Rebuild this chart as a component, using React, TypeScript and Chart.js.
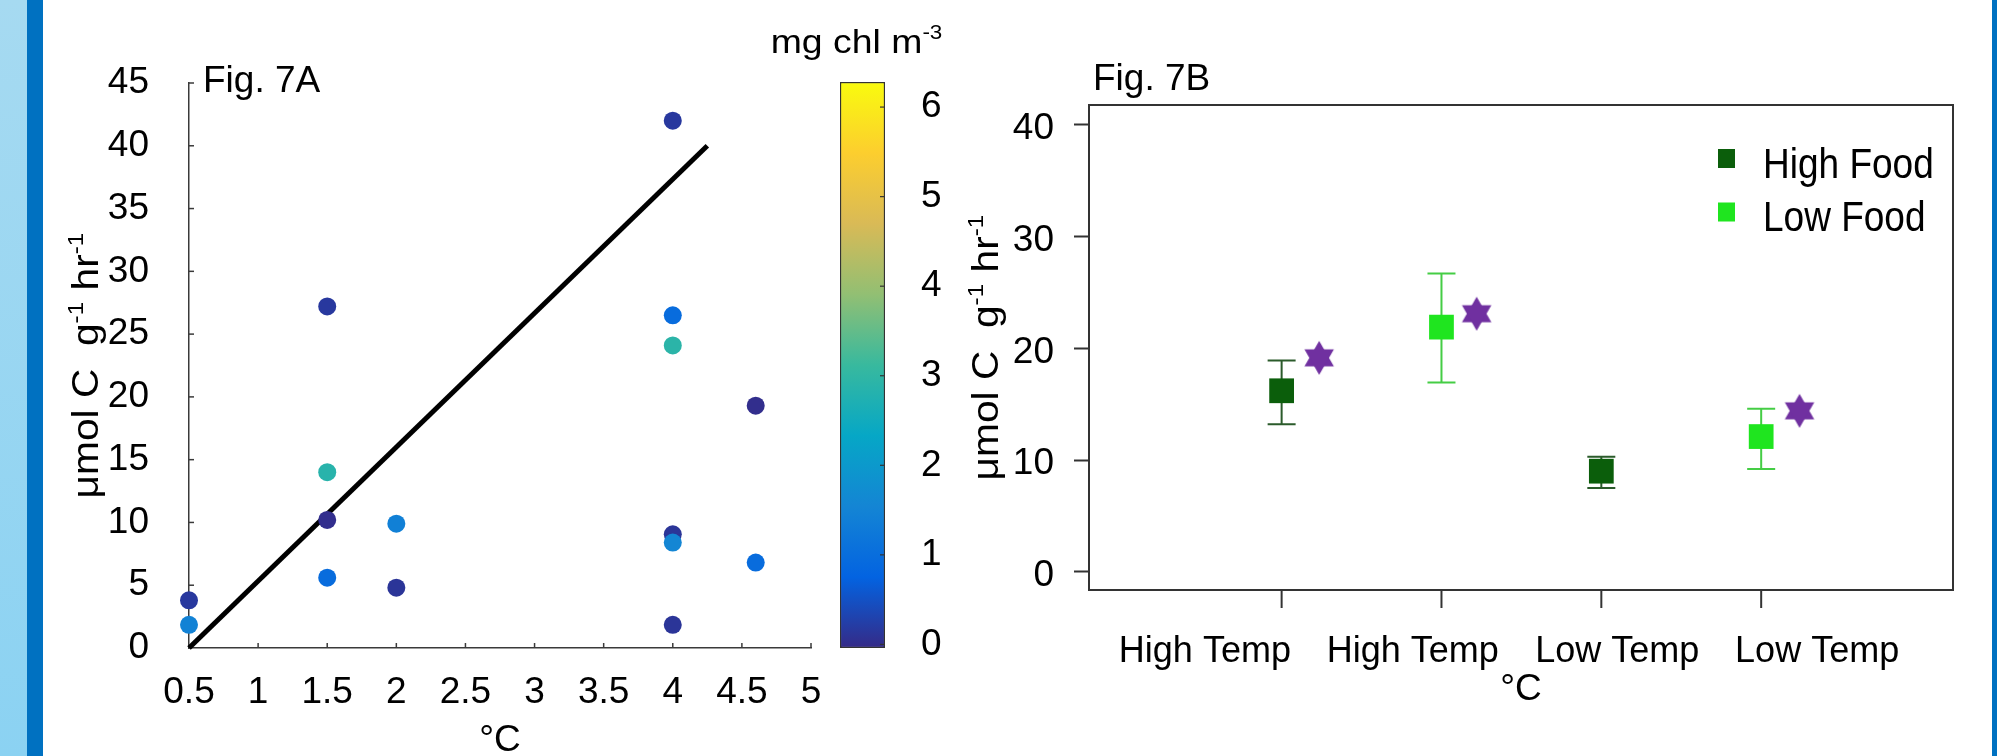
import React, { useEffect, useRef } from 'react';
import { Chart, registerables } from 'chart.js';

Chart.register(...registerables);

const FAMILY = '"Liberation Sans", Arial, Helvetica, sans-serif';
Chart.defaults.font.family = FAMILY;
Chart.defaults.color = '#000';

// ---------------- Fig. 7A data ----------------
const A_TEMP = [0.5, 0.5, 1.5, 1.5, 1.5, 1.5, 2, 2, 4, 4, 4, 4, 4, 4, 4.6, 4.6];
const A_RATE = [3.8, 1.85, 27.2, 14.0, 10.2, 5.6, 9.9, 4.8, 42.0, 26.5, 24.1, 9.05, 8.4, 1.85, 19.3, 6.8];
const A_CHL = [0.2, 1.5, 0.2, 2.9, 0.05, 1.0, 1.45, 0.15, 0.2, 1.0, 2.95, 0.15, 1.6, 0.15, 0.05, 1.0];
const A_FIT_X = [0.5, 4.25];
const A_FIT_Y = [0, 40];
const A_X_TICKS = [0.5, 1, 1.5, 2, 2.5, 3, 3.5, 4, 4.5, 5];
const A_Y_TICKS = [0, 5, 10, 15, 20, 25, 30, 35, 40, 45];
const CB_TICKS = [0, 1, 2, 3, 4, 5, 6];
const CB_MIN = -0.04;
const CB_MAX = 6.28;
const CHL_SCALE_MAX = 6.3;
const PARULA = ['#352A87', '#0363E1', '#1485D4', '#06A7C6', '#38B99E', '#92BF73', '#D9BA56', '#FCCE2E', '#F9FB0E'];

// ---------------- Fig. 7B data ----------------
const B_LABELS = ['High Temp', 'High Temp', 'Low Temp', 'Low Temp'];
const B_LABEL_AT = [0.52, 1.82, 3.1, 4.35];
const B_GROUP_X = [1, 2, 3, 4];
const B_Y_TICKS = [0, 10, 20, 30, 40];
const HIGH_FOOD_X = [1, 3];
const HIGH_FOOD_MEAN = [16.2, 9.0];
const HIGH_FOOD_LOW = [13.2, 7.5];
const HIGH_FOOD_HIGH = [18.9, 10.3];
const LOW_FOOD_X = [2, 4];
const LOW_FOOD_MEAN = [21.9, 12.1];
const LOW_FOOD_LOW = [16.95, 9.2];
const LOW_FOOD_HIGH = [26.7, 14.6];
const STAR_X = [1.235, 2.22, 4.24];
const STAR_Y = [19.15, 23.1, 14.4];

type Seg = { t: string; sup?: boolean };
const Y_TITLE: Seg[] = [{ t: 'μmol C  g' }, { t: '-1', sup: true }, { t: ' hr' }, { t: '-1', sup: true }];
const CB_TITLE: Seg[] = [{ t: 'mg chl m' }, { t: '-3', sup: true }];

function hexToRgb(h: string) {
  const n = parseInt(h.slice(1), 16);
  return [(n >> 16) & 255, (n >> 8) & 255, n & 255];
}
function parula(t: number) {
  const tt = Math.max(0, Math.min(1, t));
  const p = tt * (PARULA.length - 1);
  const i = Math.min(Math.floor(p), PARULA.length - 2);
  const f = p - i;
  const a = hexToRgb(PARULA[i]);
  const b = hexToRgb(PARULA[i + 1]);
  const c = a.map((v, k) => Math.round(v + (b[k] - v) * f));
  return `rgb(${c[0]},${c[1]},${c[2]})`;
}

function drawRich(
  ctx: CanvasRenderingContext2D,
  segs: Seg[],
  x: number,
  y: number,
  size: number,
  align: 'left' | 'center',
  rotate = 0,
  sx = 1,
  sy = 1
) {
  ctx.save();
  ctx.translate(x, y);
  if (rotate) ctx.rotate(rotate);
  ctx.scale(sx, sy);
  ctx.textBaseline = 'alphabetic';
  ctx.textAlign = 'left';
  ctx.fillStyle = '#000';
  const supSize = size * 0.6;
  let total = 0;
  const widths: number[] = [];
  segs.forEach((s) => {
    ctx.font = `${s.sup ? supSize : size}px ${FAMILY}`;
    const w = ctx.measureText(s.t).width;
    widths.push(w);
    total += w;
  });
  let cx = align === 'center' ? -total / 2 : 0;
  segs.forEach((s, i) => {
    ctx.font = `${s.sup ? supSize : size}px ${FAMILY}`;
    ctx.fillText(s.t, cx, s.sup ? -size * 0.4 : 0);
    cx += widths[i];
  });
  ctx.restore();
}

function makeStar(r: number, color: string) {
  const c = document.createElement('canvas');
  const s = Math.ceil(r * 2 + 2);
  c.width = s;
  c.height = s;
  const g = c.getContext('2d')!;
  g.fillStyle = color;
  const cx = s / 2;
  const cy = s / 2;
  [-90, 90].forEach((start) => {
    g.beginPath();
    for (let k = 0; k < 3; k++) {
      const ang = ((start + k * 120) * Math.PI) / 180;
      const px = cx + r * Math.cos(ang);
      const py = cy + r * Math.sin(ang);
      if (k === 0) g.moveTo(px, py);
      else g.lineTo(px, py);
    }
    g.closePath();
    g.fill();
  });
  return c;
}

const leftDecor = {
  id: 'leftDecor',
  afterDraw(chart: any) {
    const { ctx, chartArea: a, scales } = chart;
    const x = scales.x;
    const y = scales.y;
    ctx.save();
    ctx.strokeStyle = '#3a3a3a';
    ctx.lineWidth = 1.5;
    A_Y_TICKS.forEach((v) => {
      if (v === A_Y_TICKS[0]) return;
      const py = y.getPixelForValue(v);
      ctx.beginPath();
      ctx.moveTo(a.left, py);
      ctx.lineTo(a.left + 5, py);
      ctx.stroke();
    });
    A_X_TICKS.forEach((v) => {
      if (v === A_X_TICKS[0]) return;
      const px = x.getPixelForValue(v);
      ctx.beginPath();
      ctx.moveTo(px, a.bottom);
      ctx.lineTo(px, a.bottom - 5);
      ctx.stroke();
    });
    ctx.fillStyle = '#000';
    ctx.font = `37px ${FAMILY}`;
    ctx.textAlign = 'left';
    ctx.textBaseline = 'alphabetic';
    ctx.fillText('Fig. 7A', a.left + 14, a.top + 9);
    drawRich(ctx, Y_TITLE, a.left - 91, (a.top + a.bottom) / 2, 37, 'center', -Math.PI / 2, 1.1, 1);
    ctx.restore();
  },
};

const cbDecor = {
  id: 'cbDecor',
  afterDraw(chart: any) {
    const { ctx, chartArea: a, scales } = chart;
    const y = scales.y;
    ctx.save();
    ctx.strokeStyle = '#333';
    ctx.lineWidth = 1.2;
    CB_TICKS.forEach((v) => {
      const py = y.getPixelForValue(v);
      ctx.beginPath();
      ctx.moveTo(a.right - 1, py);
      ctx.lineTo(a.right - 5, py);
      ctx.stroke();
    });
    drawRich(ctx, CB_TITLE, (a.left + a.right) / 2 - 6, a.top - 29, 34, 'center', 0, 1.1, 1);
    ctx.restore();
  },
};

const rightDecor = {
  id: 'rightDecor',
  beforeDatasetsDraw(chart: any) {
    const { ctx, scales } = chart;
    const x = scales.x;
    const y = scales.y;
    ctx.save();
    chart.data.datasets.forEach((ds: any) => {
      if (!ds.errLow) return;
      ctx.strokeStyle = ds.errColor;
      ctx.lineWidth = 2;
      ds.data.forEach((p: any, i: number) => {
        const px = x.getPixelForValue(p.x);
        const yl = y.getPixelForValue(ds.errLow[i]);
        const yh = y.getPixelForValue(ds.errHigh[i]);
        ctx.beginPath();
        ctx.moveTo(px, yl);
        ctx.lineTo(px, yh);
        ctx.moveTo(px - 14, yl);
        ctx.lineTo(px + 14, yl);
        ctx.moveTo(px - 14, yh);
        ctx.lineTo(px + 14, yh);
        ctx.stroke();
      });
    });
    ctx.restore();
  },
  afterDraw(chart: any) {
    const { ctx, chartArea: a, scales } = chart;
    const x = scales.x;
    ctx.save();
    ctx.strokeStyle = '#333';
    ctx.lineWidth = 2;
    ctx.strokeRect(a.left, a.top, a.right - a.left, a.bottom - a.top);
    B_GROUP_X.forEach((v) => {
      const px = x.getPixelForValue(v);
      ctx.beginPath();
      ctx.moveTo(px, a.bottom);
      ctx.lineTo(px, a.bottom + 18);
      ctx.stroke();
    });
    ctx.fillStyle = '#000';
    ctx.font = `37px ${FAMILY}`;
    ctx.textAlign = 'left';
    ctx.textBaseline = 'alphabetic';
    ctx.fillText('Fig. 7B', a.left + 4, a.top - 15);
    drawRich(ctx, Y_TITLE, a.left - 91, (a.top + a.bottom) / 2, 37, 'center', -Math.PI / 2, 1.1, 1);
    // legend
    const legendSets = chart.data.datasets.filter((d: any) => d.inLegend);
    legendSets.forEach((d: any, i: number) => {
      const cy = a.top + 53.5 + i * 53.5;
      ctx.fillStyle = d.backgroundColor;
      ctx.fillRect(a.right - 235, cy - 9.5, 17, 19);
      drawRich(ctx, [{ t: d.label }], a.right - 190, a.top + 72.5 + i * 53, 37, 'left', 0, 1, 1.15);
    });
    ctx.restore();
  },
};

function makeLeft(): any {
  return {
    type: 'scatter',
    data: {
      datasets: [
        {
          label: 'fit',
          data: A_FIT_X.map((x, i) => ({ x, y: A_FIT_Y[i] })),
          showLine: true,
          borderColor: '#000',
          backgroundColor: '#000',
          borderWidth: 5,
          pointRadius: 0,
          order: 2,
          clip: false,
        },
        {
          label: 'chl',
          data: A_TEMP.map((x, i) => ({ x, y: A_RATE[i] })),
          backgroundColor: A_CHL.map((c) => parula(c / CHL_SCALE_MAX)),
          pointBackgroundColor: A_CHL.map((c) => parula(c / CHL_SCALE_MAX)),
          pointRadius: 9,
          pointBorderWidth: 0,
          borderWidth: 0,
          order: 1,
          clip: false,
        },
      ],
    },
    options: {
      responsive: false,
      animation: false,
      devicePixelRatio: 1,
      layout: { padding: { left: 0, top: 83, right: 89, bottom: 0 } },
      plugins: { legend: { display: false }, tooltip: { enabled: false } },
      scales: {
        x: {
          type: 'linear',
          min: 0.5,
          max: 5,
          afterBuildTicks: (s: any) => {
            s.ticks = A_X_TICKS.map((v) => ({ value: v }));
          },
          ticks: {
            callback: (v: any) => String(v),
            font: { size: 37 },
            color: '#000',
            padding: 15,
            autoSkip: false,
            maxRotation: 0,
            minRotation: 0,
          },
          grid: { display: false },
          border: { display: true, color: '#3a3a3a', width: 1.5 },
          title: { display: true, text: '°C', font: { size: 37 }, color: '#000', padding: { top: 0, bottom: -7 } },
          afterFit: (s: any) => {
            s.height = 108;
          },
        },
        y: {
          min: 0,
          max: 45,
          afterBuildTicks: (s: any) => {
            s.ticks = A_Y_TICKS.map((v) => ({ value: v }));
          },
          ticks: { font: { size: 37 }, color: '#000', padding: 32 },
          grid: { display: false },
          border: { display: true, color: '#3a3a3a', width: 1.5 },
          afterFit: (s: any) => {
            s.width = 189;
          },
        },
      },
    },
    plugins: [leftDecor],
  };
}

function makeColorbar(): any {
  return {
    type: 'bar',
    data: {
      labels: [''],
      datasets: [
        {
          data: [[CB_MIN, CB_MAX]],
          backgroundColor: (c: any) => {
            const area = c.chart.chartArea;
            if (!area) return PARULA[0];
            const g = c.chart.ctx.createLinearGradient(0, area.bottom, 0, area.top);
            PARULA.forEach((col, i) => g.addColorStop(i / (PARULA.length - 1), col));
            return g;
          },
          borderColor: '#333',
          borderWidth: 1.5,
          borderSkipped: false,
          barPercentage: 1,
          categoryPercentage: 1,
        },
      ],
    },
    options: {
      responsive: false,
      animation: false,
      devicePixelRatio: 1,
      layout: { padding: { left: 100, top: 82, right: 0, bottom: 108 } },
      plugins: { legend: { display: false }, tooltip: { enabled: false } },
      scales: {
        x: { display: false },
        y: {
          position: 'right',
          min: CB_MIN,
          max: CB_MAX,
          afterBuildTicks: (s: any) => {
            s.ticks = CB_TICKS.map((v) => ({ value: v }));
          },
          grid: { display: false },
          border: { display: false },
          ticks: { padding: 28, font: { size: 37 }, color: '#000' },
          afterFit: (s: any) => {
            s.width = 115;
          },
        },
      },
    },
    plugins: [cbDecor],
  };
}

function makeRight(): any {
  const star = makeStar(17, '#7030a0');
  return {
    type: 'scatter',
    data: {
      datasets: [
        {
          label: 'High Food',
          inLegend: true,
          data: HIGH_FOOD_X.map((x, i) => ({ x, y: HIGH_FOOD_MEAN[i] })),
          pointStyle: 'rect',
          pointRadius: 17.5,
          backgroundColor: '#0b5e0b',
          pointBackgroundColor: '#0b5e0b',
          borderWidth: 0,
          pointBorderWidth: 0,
          errLow: HIGH_FOOD_LOW,
          errHigh: HIGH_FOOD_HIGH,
          errColor: '#2b5b2b',
        },
        {
          label: 'Low Food',
          inLegend: true,
          data: LOW_FOOD_X.map((x, i) => ({ x, y: LOW_FOOD_MEAN[i] })),
          pointStyle: 'rect',
          pointRadius: 17.5,
          backgroundColor: '#1fe51f',
          pointBackgroundColor: '#1fe51f',
          borderWidth: 0,
          pointBorderWidth: 0,
          errLow: LOW_FOOD_LOW,
          errHigh: LOW_FOOD_HIGH,
          errColor: '#45cd45',
        },
        {
          label: 'star',
          data: STAR_X.map((x, i) => ({ x, y: STAR_Y[i] })),
          pointStyle: star,
          pointRadius: 17,
          backgroundColor: '#7030a0',
        },
      ],
    },
    options: {
      responsive: false,
      animation: false,
      devicePixelRatio: 1,
      layout: { padding: { left: 0, top: 105, right: 44, bottom: 0 } },
      plugins: { legend: { display: false }, tooltip: { enabled: false } },
      scales: {
        x: {
          type: 'linear',
          min: -0.205,
          max: 5.2,
          afterBuildTicks: (s: any) => {
            s.ticks = B_LABEL_AT.map((v) => ({ value: v }));
          },
          ticks: {
            callback: (_v: any, i: number) => B_LABELS[i],
            font: { size: 36 },
            color: '#000',
            padding: 32,
            autoSkip: false,
            maxRotation: 0,
            minRotation: 0,
          },
          grid: { display: false },
          border: { display: false },
          title: { display: true, text: '°C', font: { size: 37 }, color: '#000', padding: { top: 0, bottom: 44 } },
          afterFit: (s: any) => {
            s.height = 166;
          },
        },
        y: {
          min: -1.64,
          max: 41.79,
          afterBuildTicks: (s: any) => {
            s.ticks = B_Y_TICKS.map((v) => ({ value: v }));
          },
          grid: { display: true, drawOnChartArea: false, drawTicks: true, tickLength: 15, tickColor: '#333', tickWidth: 2, color: '#333' },
          border: { display: false },
          ticks: { padding: 20, font: { size: 37 }, color: '#000', labelOffset: 4 },
          afterFit: (s: any) => {
            s.width = 149;
          },
        },
      },
    },
    plugins: [rightDecor],
  };
}

function ChartCanvas({ x, y, w, h, make }: { x: number; y: number; w: number; h: number; make: () => any }) {
  const ref = useRef<HTMLCanvasElement>(null);
  useEffect(() => {
    const chart = new Chart(ref.current as HTMLCanvasElement, make());
    return () => chart.destroy();
  }, []);
  return (
    <canvas
      ref={ref}
      width={w}
      height={h}
      style={{ position: 'absolute', left: x, top: y, width: w, height: h }}
    />
  );
}

export default function App() {
  return (
    <div style={{ position: 'absolute', left: 0, top: 0, width: 1997, height: 756, background: '#fff', overflow: 'hidden' }}>
      <div style={{ position: 'absolute', left: 0, top: 0, width: 27, height: 756, background: 'linear-gradient(#a6daf1, #8bd2f2)' }} />
      <div style={{ position: 'absolute', left: 27, top: 0, width: 16, height: 756, background: '#0071c1' }} />
      <div style={{ position: 'absolute', left: 1992, top: 0, width: 5, height: 756, background: '#0071c1' }} />
      <ChartCanvas x={0} y={0} w={900} h={756} make={makeLeft} />
      <ChartCanvas x={740} y={0} w={260} h={756} make={makeColorbar} />
      <ChartCanvas x={940} y={0} w={1057} h={756} make={makeRight} />
    </div>
  );
}
